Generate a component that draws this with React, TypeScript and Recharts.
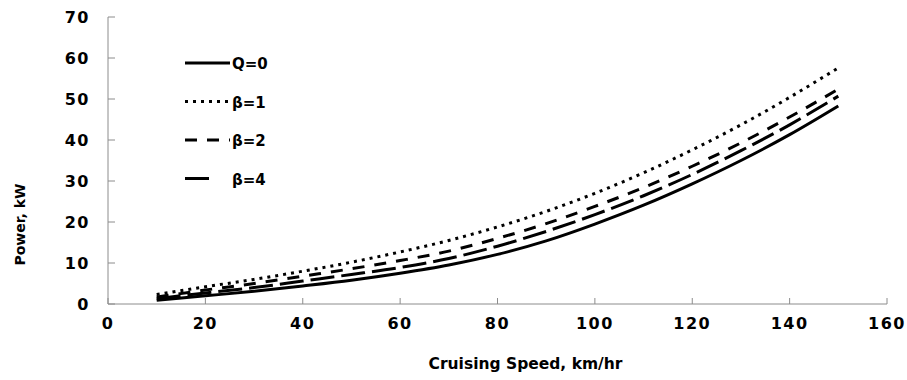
import { LineChart, Line, XAxis, YAxis } from "recharts";

const speeds = [10, 20, 30, 40, 50, 60, 70, 80, 90, 100, 110, 120, 130, 140, 150];
const q0 = [0.9, 2.0, 3.1, 4.4, 5.8, 7.5, 9.5, 12.1, 15.4, 19.5, 24.1, 29.3, 35.0, 41.3, 48.3];
const beta1 = [2.3, 4.2, 6.0, 8.0, 10.2, 12.7, 15.5, 18.8, 22.6, 27.0, 32.0, 37.6, 43.7, 50.4, 57.6];
const beta2 = [1.7, 3.4, 5.0, 6.8, 8.6, 10.6, 12.9, 16.0, 19.6, 23.8, 28.4, 33.6, 39.3, 45.6, 52.4];
const beta4 = [1.3, 2.7, 4.0, 5.6, 7.2, 8.9, 11.1, 14.1, 17.7, 21.8, 26.4, 31.6, 37.4, 43.7, 50.7];

const xTicks = [0, 20, 40, 60, 80, 100, 120, 140, 160];
const yTicks = [0, 10, 20, 30, 40, 50, 60, 70];

const data = speeds.map((s, i) => ({
  speed: s,
  q0: q0[i],
  beta1: beta1[i],
  beta2: beta2[i],
  beta4: beta4[i],
}));

const series = [
  { key: "q0", name: "Q=0", dash: undefined, sample: 45 },
  { key: "beta1", name: "β=1", dash: "3 5", sample: 45 },
  { key: "beta2", name: "β=2", dash: "12 10", sample: 45 },
  { key: "beta4", name: "β=4", dash: "24 7", sample: 30 },
];

const font = "'DejaVu Sans', Verdana, sans-serif";

// legend drawn on top of the chart, upper left like the original
function LegendBox() {
  return (
    <svg width={110} height={160} style={{ position: "absolute", left: 185, top: 51 }}>
      {series.map((s, i) => {
        const y = 12 + i * 38.5;
        return (
          <g key={s.key}>
            <line x1={0} x2={s.sample} y1={y} y2={y} stroke="#000" strokeWidth={3} strokeDasharray={s.dash} />
            <text x={47} y={y + 6} fontFamily={font} fontWeight="bold" fontSize={15} fill="#000">
              {s.name}
            </text>
          </g>
        );
      })}
    </svg>
  );
}

export default function App() {
  return (
    <div style={{ position: "absolute", left: 0, top: 0, width: 907, height: 380, background: "#fff" }}>
      <LineChart width={907} height={380} data={data} margin={{ top: 17, right: 20, left: 48, bottom: 46 }}>
        <XAxis
          dataKey="speed"
          type="number"
          domain={[0, 160]}
          ticks={xTicks}
          stroke="#8c8c8c"
          tickSize={-6}
          tickMargin={20}
          tick={{ fill: "#000", fontFamily: font, fontWeight: "bold", fontSize: 16, letterSpacing: 1.5 }}
          label={{ value: "Cruising Speed, km/hr", position: "insideBottom", offset: -35, dx: 28, fill: "#000", fontFamily: font, fontWeight: "bold", fontSize: 15.5 }}
          height={30}
        />
        <YAxis
          type="number"
          domain={[0, 70]}
          ticks={yTicks}
          stroke="#8c8c8c"
          tickSize={-7}
          tickMargin={25}
          width={60}
          tick={{ fill: "#000", fontFamily: font, fontWeight: "bold", fontSize: 16, letterSpacing: 1.5 }}
          label={{ value: "Power, kW", angle: -90, position: "left", offset: 28, dy: 23, fill: "#000", fontFamily: font, fontWeight: "bold", fontSize: 14 }}
        />
        {series.map((s) => (
          <Line
            key={s.key}
            dataKey={s.key}
            name={s.name}
            type="monotone"
            stroke="#000"
            strokeWidth={3}
            strokeDasharray={s.dash}
            dot={false}
            activeDot={false}
            isAnimationActive={false}
          />
        ))}
      </LineChart>
      <LegendBox />
    </div>
  );
}
